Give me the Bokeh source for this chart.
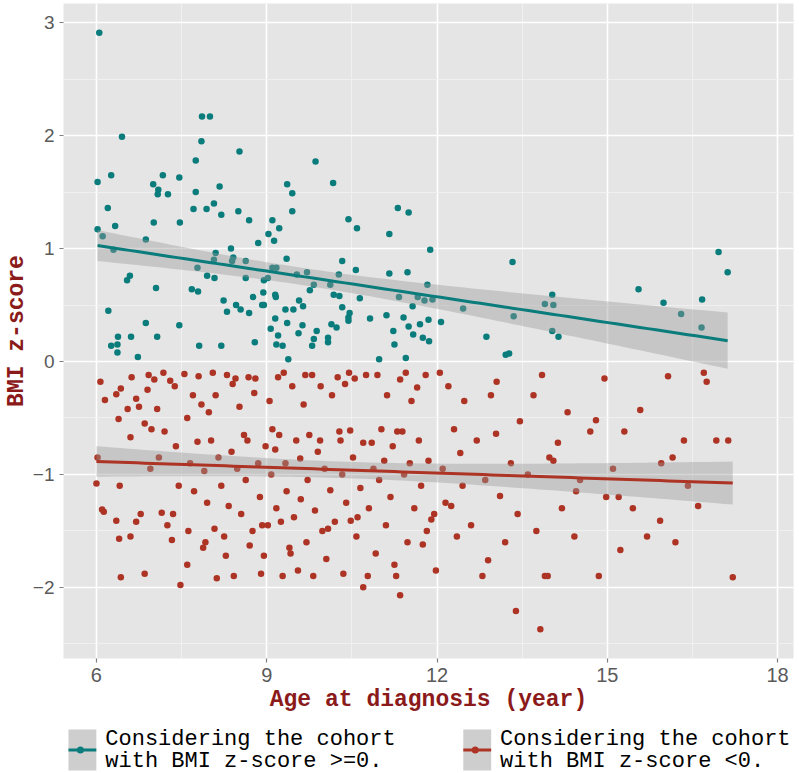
import numpy as np
from bokeh.plotting import figure
from bokeh.layouts import column
from bokeh.models import Range1d, FixedTicker, ColumnDataSource
from bokeh.core.properties import value
from bokeh.embed import file_html
from bokeh.resources import INLINE

# ---- data: BMI z-score >= 0 cohort ----
pos_age = [6.05, 6.45, 7.86, 8.00, 7.85, 8.52, 7.75, 9.86, 6.02, 6.26, 7.00, 7.17, 7.46, 7.09, 7.08,
           7.26, 7.75, 8.17, 9.36, 9.45, 6.20, 7.71, 7.94, 8.07, 8.20, 8.50, 8.69, 9.45, 6.33, 7.01,
           7.47, 9.10, 9.22, 6.02, 6.11, 6.30, 6.87, 9.03, 9.13, 8.85, 8.37, 8.10, 8.07, 8.41, 8.39,
           8.63, 9.35, 7.78, 7.95, 8.08, 8.63, 9.10, 9.17, 9.02, 8.95, 9.53, 9.71, 9.83, 9.76, 6.59,
           6.54, 7.05, 7.68, 7.79, 8.94, 9.15, 9.16, 8.76, 8.24, 9.57, 9.64, 8.92, 8.95, 8.46, 8.54,
           8.30, 8.69, 9.33, 9.47, 6.21, 9.15, 9.36, 9.63, 9.88, 6.87, 7.46, 9.07, 9.56, 9.20, 9.83,
           6.38, 6.61, 7.07, 6.26, 6.37, 6.37, 9.17, 9.28, 8.79, 7.81, 8.20, 9.80, 6.73, 9.38,
           10.17, 10.44, 10.59, 11.31, 11.50, 11.16, 11.88, 10.33, 10.57, 11.16, 11.48, 10.27, 10.12,
           10.18, 10.28, 10.64, 11.83, 11.33, 11.66, 11.78, 11.92, 11.57, 10.33, 10.46, 10.44, 10.44,
           10.82, 11.11, 11.41, 11.85, 12.07, 11.70, 11.50, 10.14, 10.23, 11.23, 11.58, 11.75, 11.86,
           10.08, 10.08, 11.25, 11.45, 10.98, 12.46, 12.87, 13.33, 13.35, 13.21, 13.27, 14.03, 13.90,
           14.05, 14.03, 14.14, 15.55, 15.99, 16.30, 16.67, 16.66, 16.96, 17.12]
pos_z = [2.91, 1.99, 2.17, 2.17, 1.95, 1.86, 1.78, 1.77, 1.59, 1.65, 1.57, 1.65, 1.63, 1.52, 1.48,
         1.48, 1.50, 1.55, 1.57, 1.49, 1.36, 1.35, 1.35, 1.40, 1.30, 1.33, 1.25, 1.33, 1.20, 1.23,
         1.23, 1.25, 1.18, 1.17, 1.11, 0.99, 1.08, 1.13, 1.07, 1.05, 1.00, 0.96, 0.90, 0.92, 0.89,
         0.89, 0.91, 0.83, 0.76, 0.74, 0.74, 0.83, 0.83, 0.74, 0.72, 0.77, 0.79, 0.68, 0.63, 0.76,
         0.72, 0.65, 0.64, 0.62, 0.61, 0.59, 0.57, 0.57, 0.54, 0.54, 0.49, 0.50, 0.50, 0.50, 0.46,
         0.44, 0.43, 0.46, 0.46, 0.45, 0.38, 0.34, 0.32, 0.27, 0.34, 0.32, 0.29, 0.25, 0.23, 0.20,
         0.22, 0.22, 0.22, 0.14, 0.15, 0.08, 0.15, 0.14, 0.17, 0.14, 0.14, 0.14, 0.04, 0.02,
         1.58, 1.26, 1.18, 1.36, 1.32, 1.13, 0.99, 0.89, 0.81, 0.78, 0.79, 0.77, 0.68,
         0.59, 0.58, 0.56, 0.68, 0.57, 0.57, 0.54, 0.55, 0.49, 0.48, 0.43, 0.39, 0.36,
         0.38, 0.41, 0.39, 0.37, 0.35, 0.33, 0.31, 0.33, 0.30, 0.27, 0.24, 0.21, 0.18,
         0.21, 0.17, 0.15, 0.03, 0.02, 0.47, 0.22, 0.88, 0.40, 0.06, 0.07, 0.59, 0.51,
         0.50, 0.27, 0.22, 0.64, 0.52, 0.42, 0.55, 0.30, 0.97, 0.79]

# ---- data: BMI z-score < 0 cohort ----
neg_age = [6.07, 6.15, 6.35, 6.43, 6.39, 6.02, 6.00, 6.10, 6.13, 6.35, 6.40, 6.43, 6.41,
           6.55, 6.60, 6.62, 6.70, 6.75, 6.78, 6.85, 6.90, 6.92, 6.95, 6.97, 6.60, 6.85, 6.70,
           7.02, 7.07, 7.10, 7.15, 7.20, 7.25, 7.30, 7.33, 7.38, 7.40, 7.45, 7.48, 7.35, 7.18,
           7.55, 7.60, 7.62, 7.65, 7.70, 7.72, 7.78, 7.80, 7.85, 7.88, 7.90, 7.92, 7.95, 7.98, 7.60,
           8.02, 8.05, 8.08, 8.10, 8.15, 8.20, 8.25, 8.28, 8.30, 8.33, 8.38, 8.40, 8.42, 8.45, 8.48, 8.12,
           8.52, 8.55, 8.60, 8.63, 8.66, 8.68, 8.70, 8.75, 8.78, 8.80, 8.85, 8.88, 8.90, 8.92, 8.95, 8.98,
           9.02, 9.05, 9.08, 9.10, 9.15, 9.17, 9.20, 9.22, 9.25, 9.28, 9.30, 9.33, 9.35, 9.40, 9.42,
           9.45, 9.48,
           9.52, 9.55, 9.59, 9.60, 9.65, 9.68, 9.70, 9.72, 9.75, 9.80, 9.82, 9.85, 9.90, 9.94, 9.95, 9.98,
           10.02, 10.05, 10.08, 10.12, 10.15, 10.20, 10.25, 10.28, 10.30, 10.33, 10.38, 10.40, 10.45,
           10.47, 10.48, 10.35,
           10.52, 10.55, 10.58, 10.60, 10.65, 10.70, 10.75, 10.78, 10.80, 10.85, 10.88, 10.92, 10.95,
           10.98, 10.70,
           11.02, 11.07, 11.10, 11.12, 11.18, 11.22, 11.25, 11.30, 11.35, 11.35, 11.39, 11.42, 11.45,
           11.48, 11.28,
           11.52, 11.55, 11.60, 11.65, 11.68, 11.72, 11.75, 11.80, 11.82, 11.85, 11.90, 11.95, 11.98,
           12.05, 12.10, 12.15, 12.20, 12.25, 12.30, 12.35, 12.41, 12.45, 12.48,
           12.60, 12.70, 12.80, 12.85, 12.90, 12.95,
           13.04, 13.05, 13.11, 13.20, 13.30, 13.39, 13.42, 13.46,
           13.60, 13.70, 13.75, 13.82, 13.85, 13.90, 13.95, 13.98,
           14.05, 14.13, 14.20, 14.30, 14.42, 14.45,
           14.52, 14.70, 14.80, 14.85, 14.95, 14.98,
           15.10, 15.20, 15.23, 15.30, 15.45,
           15.58, 15.70, 15.93, 15.95,
           16.07, 16.15, 16.20, 16.35, 16.42,
           16.60, 16.70, 16.75, 16.92, 17.13, 17.21]
neg_z = [-0.18, -0.34, -0.29, -0.24, -0.51, -0.85, -1.08, -1.31, -1.33, -1.41, -1.57, -1.91, -1.10,
         -0.42, -0.67, -0.14, -0.33, -0.40, -1.35, -0.55, -0.25, -0.12, -0.95, -0.60, -1.55, -1.88, -1.42,
         -0.16, -0.42, -0.85, -1.34, -0.62, -1.45, -0.17, -1.58, -0.22, -0.75, -1.10, -1.98, -1.35, -0.10,
         -0.11, -0.50, -1.50, -0.90, -0.30, -1.15, -0.71, -0.13, -0.38, -1.65, -0.97, -1.60, -1.25, -0.45,
         -1.80,
         -0.70, -0.10, -1.48, -0.30, -0.85, -1.10, -1.55, -1.72, -0.12, -1.28, -0.80, -0.20, -1.90, -0.15,
         -0.95, -1.92,
         -0.40, -1.35, -0.65, -1.05, -0.70, -0.14, -1.63, -1.50, -0.28, -0.15, -0.90, -1.20, -1.88, -1.45,
         -1.72, -0.75,
         -1.45, -0.35, -1.00, -0.60, -0.78, -1.30, -0.14, -0.65, -1.42, -1.90, -0.10, -0.90, -1.15, -1.65,
         -1.70, -0.22, -1.38,
         -0.70, -1.85, -0.86, -1.22, -0.38, -0.12, -1.60, -1.05, -0.65, -0.12, -1.90, -1.32, -0.80, -0.70,
         -0.22, -1.50,
         -0.95, -1.75, -1.48, -1.14, -0.30, -1.42, -0.14, -0.62, -0.70, -1.00, -0.20, -1.25, -0.10,
         -0.61, -1.41, -1.88,
         -0.85, -0.15, -1.55, -1.38, -1.12, -0.72, -0.12, -1.90, -1.30, -0.72, -0.95, -1.70, -0.12,
         -1.05, -2.00,
         -0.60, -0.88, -1.45, -0.30, -1.20, -0.75, -1.80, -0.62, -2.07, -0.16, -0.62, -1.00, -0.10,
         -1.60, -1.90,
         -0.90, -0.35, -1.30, -0.23, -0.70, -1.10, -1.62, -0.12, -1.50, -0.88, -1.40, -1.35, -1.85,
         -0.10, -0.95, -1.25, -0.22, -1.28, -0.60, -1.55, -0.81, -1.10, -0.35,
         -1.45, -0.70, -1.90, -1.05, -1.76, -0.30,
         -0.64, -0.18, -1.19, -1.60, -0.90, -2.21, -1.35, -0.53,
         -1.00, -0.30, -1.50, -2.37, -0.12, -1.90, -1.90, -0.85,
         -0.88, -0.72, -1.30, -0.45, -1.55, -1.15,
         -1.05, -0.62, -0.52, -1.90, -0.15, -1.20,
         -0.95, -1.20, -1.67, -0.62, -1.30,
         -0.43, -1.55, -1.41, -0.90,
         -0.13, -0.85, -1.60, -0.70, -1.10,
         -1.28, -0.10, -0.18, -0.70, -0.70, -1.91]

x_ticks = [6, 9, 12, 15, 18]
y_ticks = [-2, -1, 0, 1, 2, 3]
y_tick_labels = {-2: "\u22122", -1: "\u22121", 0: "0", 1: "1", 2: "2", 3: "3"}
legend_lines = [["Considering the cohort", "with BMI z-score >=0."],
                ["Considering the cohort", "with BMI z-score <0."]]

TEAL = "#0b7c7c"
RED = "#ad3424"
DARKRED = "#8b1a1a"


def lm_band(x, y, n_pts=80):
    x = np.asarray(x, float)
    y = np.asarray(y, float)
    n = len(x)
    b, a = np.polyfit(x, y, 1)
    resid = y - (a + b * x)
    s = np.sqrt(np.sum(resid ** 2) / (n - 2))
    xbar = x.mean()
    sxx = np.sum((x - xbar) ** 2)
    xs = np.linspace(x.min(), x.max(), n_pts)
    fit = a + b * xs
    se = s * np.sqrt(1.0 / n + (xs - xbar) ** 2 / sxx)
    t = 1.97
    return xs, fit, fit - t * se, fit + t * se


p = figure(frame_width=730, frame_height=655, output_backend="svg", toolbar_location=None,
           x_range=Range1d(5.42, 18.28), y_range=Range1d(-2.63, 3.17),
           min_border_left=57, min_border_right=2, min_border_top=3, min_border_bottom=64)

p.background_fill_color = "#e5e5e5"
p.border_fill_color = "white"
p.outline_line_color = None

p.xaxis.ticker = FixedTicker(ticks=x_ticks, minor_ticks=[7.5, 10.5, 13.5, 16.5])
p.yaxis.ticker = FixedTicker(ticks=y_ticks, minor_ticks=[-2.5, -1.5, -0.5, 0.5, 1.5, 2.5])
p.yaxis.major_label_overrides = y_tick_labels

for g in (p.xgrid, p.ygrid):
    g.grid_line_color = "white"
    g.grid_line_width = 1.6
    g.minor_grid_line_color = "#f3f3f3"
    g.minor_grid_line_width = 0.8

for ax in (p.xaxis, p.yaxis):
    ax.axis_line_color = None
    ax.major_tick_line_color = "#7f7f7f"
    ax.major_tick_line_width = 1.2
    ax.major_tick_out = 4
    ax.major_tick_in = 0
    ax.minor_tick_line_color = None
    ax.major_label_text_font = "Liberation Sans"
    ax.major_label_text_font_size = "20px"
    ax.major_label_text_color = "#5a5a5a"
    ax.axis_label_text_font = "Liberation Mono"
    ax.axis_label_text_font_style = "bold"
    ax.axis_label_text_font_size = "23px"
    ax.axis_label_text_color = DARKRED

p.xaxis.axis_label = "Age at diagnosis (year)"
p.yaxis.axis_label = "BMI z-score"
p.yaxis.major_label_text_font_size = "19px"
p.xaxis.major_label_standoff = 5
p.yaxis.major_label_standoff = 5
p.xaxis.axis_label_standoff = 2
p.yaxis.axis_label_standoff = 0

src_pos = ColumnDataSource(dict(x=pos_age, y=pos_z))
src_neg = ColumnDataSource(dict(x=neg_age, y=neg_z))

p.scatter("x", "y", source=src_pos, size=6.5, color=TEAL, line_color=None)
p.scatter("x", "y", source=src_neg, size=6.5, color=RED, line_color=None)

for (ax_, ay_), col in (((pos_age, pos_z), TEAL), ((neg_age, neg_z), RED)):
    xs, fit, lo, hi = lm_band(ax_, ay_)
    p.varea(x=xs, y1=lo, y2=hi, fill_color="#999999", fill_alpha=0.4)
    p.line(xs, fit, line_color=col, line_width=3)

# ---- legend strip below; the column lines its frame up with the plot frame,
#      so its x range is expressed in page pixels of that frame (63..793) ----
leg = figure(width=791, height=51, output_backend="svg", toolbar_location=None,
             x_range=Range1d(63, 793), y_range=Range1d(51, 0),
             x_axis_location=None, y_axis_location=None,
             min_border=0, outline_line_color=None)
leg.grid.visible = False
leg.background_fill_color = "white"
leg.border_fill_color = "white"

key_x = [68, 465]
for i, col in enumerate((TEAL, RED)):
    x0 = key_x[i]
    leg.quad(left=x0, right=x0 + 28, top=7, bottom=48, fill_color="#cecece", line_color=None)
    leg.segment(x0=x0, y0=27.5, x1=x0 + 28, y1=27.5, line_color=col, line_width=3)
    leg.scatter(x=[x0 + 12], y=[27.5], size=7, color=col, line_color=None)
    leg.text(x=[x0 + 37, x0 + 37], y=[17, 39], text=legend_lines[i],
             text_font=value("Liberation Mono"), text_font_size="22px",
             text_color="black", text_baseline="middle", text_align="left")

layout = column(p, leg, spacing=0)
open("out.html", "w").write(file_html(layout, INLINE))
